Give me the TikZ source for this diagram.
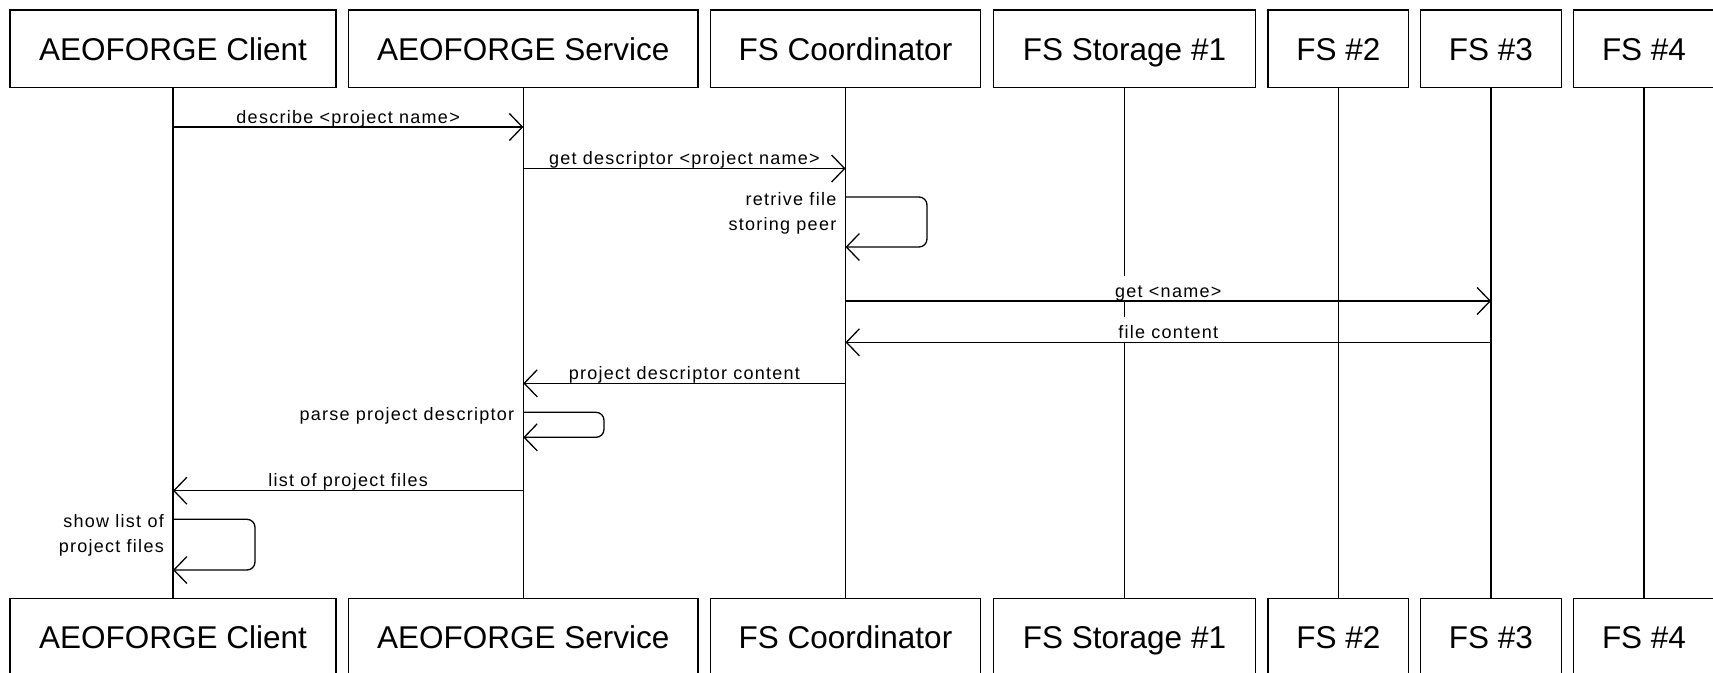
\documentclass[tikz,border=0pt]{standalone}
\usepackage{fontspec}
\setmainfont{Liberation Sans}
\newfontfamily\lblfont{Liberation Sans}[LetterSpace=7]
\usetikzlibrary{arrows.meta,calc}
\begin{document}
\begin{tikzpicture}[x=1pt,y=-1pt,
  actor/.style={draw, line width=1.4pt, minimum height=77.3pt, inner sep=0pt,
    text height=22.7pt, text depth=0pt,
    font=\fontsize{31.5}{36}\selectfont},
  life/.style={line width=1.2pt},
  msg/.style={line width=1.3pt, -{Straight Barb[length=13pt,width=27pt]}},
  selfmsg/.style={msg, rounded corners=8pt},
  lbl/.style={font=\lblfont\fontsize{18}{25}\selectfont, inner xsep=3pt, inner ysep=0pt,
    fill=white, text height=21pt, text depth=4pt, anchor=base},
  note/.style={font=\lblfont\fontsize{18}{25}\selectfont, align=right,
    anchor=north east, inner sep=0pt}
]
\clip (0,0) rectangle (1713,672);
\fill[white] (0,0) rectangle (1713,672);

% actors, top row
\node[actor, minimum width=326pt]   (clt) at (173,48.65)    {AEOFORGE Client};
\node[actor, minimum width=349.5pt] (svt) at (523.3,48.65)  {AEOFORGE Service};
\node[actor, minimum width=270.5pt] (cot) at (845.5,48.65)  {FS Coordinator};
\node[actor, minimum width=262.5pt] (stt) at (1124.5,48.65) {FS Storage \#1};
\node[actor, minimum width=140.5pt] (f2t) at (1338.3,48.65) {FS \#2};
\node[actor, minimum width=141.5pt] (f3t) at (1491,48.65)   {FS \#3};
\node[actor, minimum width=141pt]   (f4t) at (1644,48.65)   {FS \#4};
% actors, bottom row
\node[actor, minimum width=326pt]   (clb) at (173,637.1)    {AEOFORGE Client};
\node[actor, minimum width=349.5pt] (svb) at (523.3,637.1)  {AEOFORGE Service};
\node[actor, minimum width=270.5pt] (cob) at (845.5,637.1)  {FS Coordinator};
\node[actor, minimum width=262.5pt] (stb) at (1124.5,637.1) {FS Storage \#1};
\node[actor, minimum width=140.5pt] (f2b) at (1338.3,637.1) {FS \#2};
\node[actor, minimum width=141.5pt] (f3b) at (1491,637.1)   {FS \#3};
\node[actor, minimum width=141pt]   (f4b) at (1644,637.1)   {FS \#4};

% lifelines
\draw[life] (clt.south) -- (clb.north);
\draw[life] (svt.south) -- (svb.north);
\draw[life] (cot.south) -- (cob.north);
\draw[life] (stt.south) -- (stb.north);
\draw[life] (f2t.south) -- (f2b.north);
\draw[life] (f3t.south) -- (f3b.north);
\draw[life] (f4t.south) -- (f4b.north);

% message rows
\coordinate (m1) at (0,127);
\coordinate (m2) at (0,168.5);
\coordinate (s1a) at (0,197);
\coordinate (s1b) at (0,247);
\coordinate (s1r) at (927,0);
\coordinate (m4) at (0,301);
\coordinate (m5) at (0,342.3);
\coordinate (m6) at (0,383.3);
\coordinate (s2a) at (0,412.3);
\coordinate (s2b) at (0,437.3);
\coordinate (s2r) at (604,0);
\coordinate (m8) at (0,490.7);
\coordinate (s3a) at (0,519.3);
\coordinate (s3b) at (0,570);
\coordinate (s3r) at (255,0);

% labels of messages (white background covers lifelines)
\node[lbl] (l1) at ($(clt |- m1)!0.5!(svt |- m1) + (0,-4)$) {describe <project name>};
\node[lbl] (l2) at ($(svt |- m2)!0.5!(cot |- m2) + (0,-4)$) {get descriptor <project name>};
\node[lbl] (l4) at ($(cot |- m4)!0.5!(f3t |- m4) + (0,-4)$) {get <name>};
\node[lbl] (l5) at ($(cot |- m5)!0.5!(f3t |- m5) + (0,-4)$) {file content};
\node[lbl] (l6) at ($(cot |- m6)!0.5!(svt |- m6) + (0,-4)$) {project descriptor content};
\node[lbl] (l8) at ($(svt |- m8)!0.5!(clt |- m8) + (0,-4)$) {list of project files};

% messages
\draw[msg] (clt |- m1) -- (svt |- m1);
\draw[msg] (svt |- m2) -- (cot |- m2);
\draw[selfmsg] (cot |- s1a) -- (s1r |- s1a) -- (s1r |- s1b) -- (cot |- s1b);
\draw[msg] (cot |- m4) -- (f3t |- m4);
\draw[msg] (f3t |- m5) -- (cot |- m5);
\draw[msg] (cot |- m6) -- (svt |- m6);
\draw[selfmsg] (svt |- s2a) -- (s2r |- s2a) -- (s2r |- s2b) -- (svt |- s2b);
\draw[msg] (svt |- m8) -- (clt |- m8);
\draw[selfmsg] (clt |- s3a) -- (s3r |- s3a) -- (s3r |- s3b) -- (clt |- s3b);

% self-message notes
\node[note] (n1) at ($(cot |- s1a) + (-9,-5)$) {retrive file\\storing peer};
\node[note] (n2) at ($(svt |- s2a) + (-9,-5)$) {parse project descriptor};
\node[note] (n3) at ($(clt |- s3a) + (-9,-5)$) {show list of\\project files};
\end{tikzpicture}
\end{document}
